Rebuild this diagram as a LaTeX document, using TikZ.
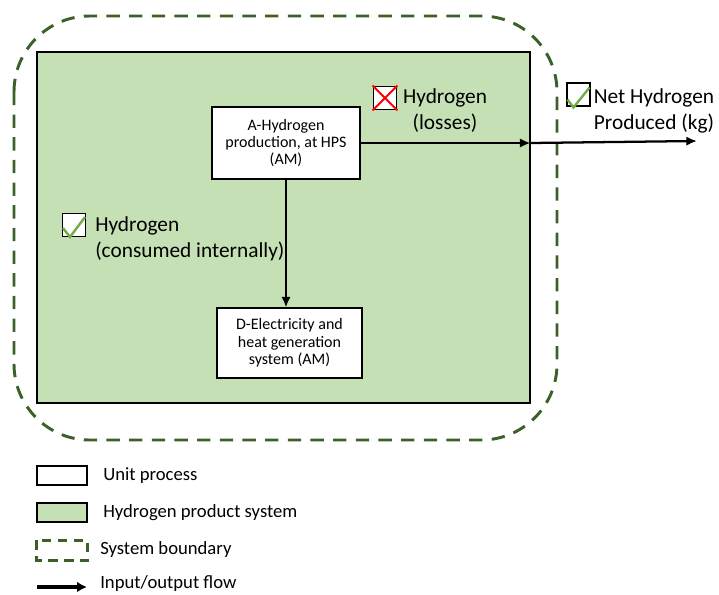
\documentclass[tikz,border=0pt]{standalone}
\usepackage{fontspec}
\setmainfont{Carlito}
\usepackage{tikz}
\usetikzlibrary{shapes, arrows.meta, positioning}
\definecolor{prodgreen}{HTML}{C5E0B4}
\definecolor{bounddark}{HTML}{3B6129}
\definecolor{tickgreen}{HTML}{70AD47}
\tikzstyle{block} = [draw, fill=white, rectangle, line width=0.8pt, align=center, font=\fontsize{12}{13}\selectfont]
\tikzstyle{sysbox} = [draw, fill=prodgreen, rectangle, line width=0.8pt]
\tikzstyle{boundary} = [draw=bounddark, line width=2.2pt, dash pattern=on 10pt off 7pt]
\tikzstyle{flow} = [line width=1.7pt, -{Latex[length=8pt, width=7pt]}]
\tikzstyle{chk} = [draw, fill=white, rectangle, line width=1.1pt, minimum width=17.5pt, minimum height=17.5pt, inner sep=0pt]
\tikzstyle{lbl} = [font=\fontsize{16}{19.5}\selectfont, inner sep=0pt]
\tikzstyle{legbox} = [draw, rectangle, line width=0.9pt, minimum width=37.5pt, minimum height=14.25pt, inner sep=0pt]
\tikzstyle{legtext} = [anchor=west, inner sep=0pt, font=\fontsize{14}{16}\selectfont]

\begin{document}
\begin{tikzpicture}[x=0.75pt, y=-0.75pt]
  \useasboundingbox (0,0) rectangle (719,594);
  % system boundary and product system
  \draw[boundary, rounded corners=2cm] (14,16) rectangle (557,440);
  \node[sysbox, minimum width=369.75pt, minimum height=263.25pt] (sys) at (283.5,227.5) {};
  % unit processes
  \node[block, minimum width=111pt, minimum height=54pt] (hyd) at (286,143) {A-Hydrogen\\production, at HPS\\(AM)};
  \node[block, minimum width=108.75pt, minimum height=52.5pt] (elec) at (289.5,343) {D-Electricity and\\heat generation\\system (AM)};
  \coordinate (out) at (697,141);
  \draw[flow] (hyd.south) -- (hyd.south |- elec.north);
  \draw[flow] (hyd.east) -- (hyd.east -| sys.east);
  \draw[flow] (hyd.east -| sys.east) -- (out);
  % flow labels
  \node[chk] (lossbox) at (385,98) {};
  \draw[red, line width=1.4pt] (lossbox.north west) -- (lossbox.south east);
  \draw[red, line width=1.4pt] (lossbox.south west) -- (lossbox.north east);
  \node[lbl, align=center] (loss) at (445,111) {Hydrogen\\(losses)};
  \node[chk] (netbox) at (578.5,94.5) {};
  \draw[tickgreen, line width=1.8pt] (netbox.center) ++(-11,5) -- ++(6,8) -- ++(16,-20);
  \node[lbl, align=center] (net) at (654,111) {Net Hydrogen\\Produced (kg)};
  \node[chk] (intbox) at (74,225) {};
  \draw[tickgreen, line width=1.8pt] (intbox.center) ++(-11,3) -- ++(7,9) -- ++(15,-20);
  \node[lbl, align=left, anchor=west] (int) at (95,239) {Hydrogen\\(consumed internally)};
  % legend
  \node[legbox, fill=white] (lunit) at (62,475.5) {};
  \node[legtext] (tunit) at (103,476) {Unit process};
  \node[legbox, fill=prodgreen] (lsys) at (62,512.5) {};
  \node[legtext] (tsys) at (103,513) {Hydrogen product system};
  \node[legbox, draw=none] (lbound) at (62,550.5) {};
  \draw[boundary, line width=1.8pt, dash pattern=on 7pt off 5pt] (lbound.north west) rectangle (lbound.south east);
  \node[legtext] (tbound) at (100,550) {System boundary};
  \coordinate (lflow) at (37,587);
  \coordinate (lflowend) at (87,587);
  \draw[line width=3pt, -{Latex[length=7.5pt, width=8pt]}] (lflow) -- (lflowend);
  \node[legtext] (tflow) at (100,584) {Input/output flow};
\end{tikzpicture}
\end{document}
